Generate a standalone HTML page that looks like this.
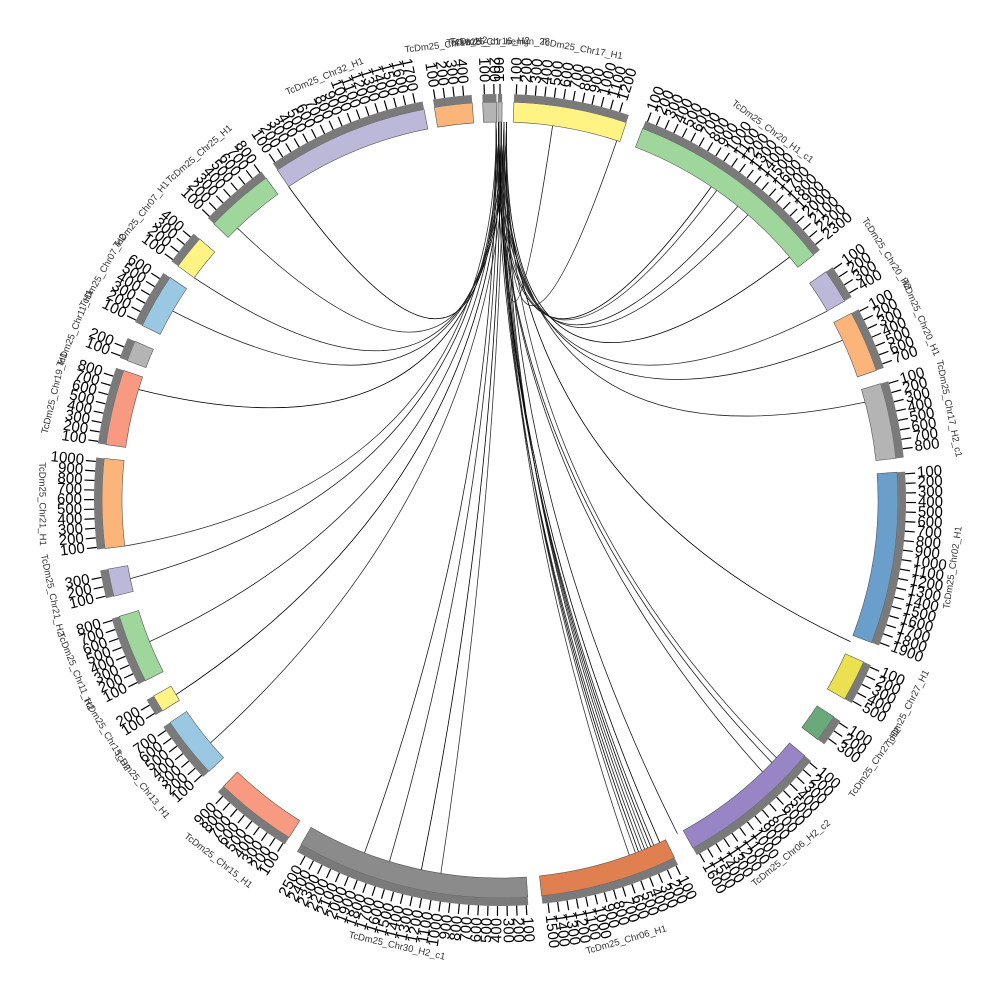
<!DOCTYPE html>
<html><head><meta charset="utf-8"><style>
html,body{margin:0;padding:0;background:#fff;}
svg{display:block;font-family:"Liberation Sans",sans-serif;}
</style></head><body>
<svg id="s" width="1000" height="1000" viewBox="0 0 1000 1000" xmlns="http://www.w3.org/2000/svg"></svg>
<script>
var S=document.getElementById('s'),NS='http://www.w3.org/2000/svg',cx=500,cy=500;
function el(t,a,txt){var e=document.createElementNS(NS,t);for(var k in a)e.setAttribute(k,a[k]);if(txt!=null)e.textContent=txt;S.appendChild(e);return e;}
function pt(a,r){var t=a*Math.PI/180;return [cx+r*Math.sin(t),cy-r*Math.cos(t)];}
function arc(a0,a1,r0,r1,fill,stroke){var p0=pt(a0,r1),p1=pt(a1,r1),p2=pt(a1,r0),p3=pt(a0,r0),l=(a1-a0)>180?1:0;
el('path',{d:'M'+p0+' A'+r1+','+r1+' 0 '+l+' 1 '+p1+' L'+p2+' A'+r0+','+r0+' 0 '+l+' 0 '+p3+'Z',fill:fill,stroke:stroke||'none','stroke-width':0.6});}
var segs=[
[-0.3,0.3,'#bbb','TcDm25_c1_benign_28'],
[2,18.5,'#fff384','TcDm25_Chr17_H1'],
[21,52,'#9fd69c','TcDm25_Chr20_H1_c1'],
[55,60,'#bcb8da','TcDm25_Chr20_H2'],
[62,71,'#fbb479','TcDm25_Chr20_H1'],
[73,84,'#b4b4b4','TcDm25_Chr17_H2_c1'],
[86,111,'#6a9ecb','TcDm25_Chr02_H1'],
[114,120,'#ebe050','TcDm25_Chr27_H1'],
[123,127,'#6aaa7a','TcDm25_Chr27_H2'],
[130,151,'#9785c5','TcDm25_Chr06_H2_c2'],
[154,174,'#e07f50','TcDm25_Chr06_H1'],
[176,210,'#8b8b8b','TcDm25_Chr30_H2_c1'],
[212,224,'#f79a81','TcDm25_Chr15_H1'],
[227,236,'#9ac8e2','TcDm25_Chr13_H1'],
[238,240.5,'#fff384','TcDm25_Chr15_H2'],
[243,253,'#9fd69c','TcDm25_Chr11_H2'],
[256,260,'#bcb8da','TcDm25_Chr21_H2'],
[263,276,'#fbb479','TcDm25_Chr21_H1'],
[278,289,'#f79a81','TcDm25_Chr19_H1'],
[290.5,293.5,'#b4b4b4','TcDm25_Chr11_H1'],
[296,304,'#9ac8e2','TcDm25_Chr07_H2'],
[306,311,'#fff384','TcDm25_Chr07_H1'],
[314,324,'#9fd69c','TcDm25_Chr25_H1'],
[326,349,'#bcb8da','TcDm25_Chr32_H1'],
[350.5,356,'#fbb479','TcDm25_Chr13_H2'],
[357.5,359.5,'#b4b4b4','TcDm25_Chr16_H2']];
var tg=[34,35,39,41,50,60,65,75,112,133,134,156,156.5,157,157.5,158,158.5,159,8,18,326,316,306,300,287,263,258,248,239,230,201,197,192,189,152,136,155,160];
var cols=['#000','#333','#1a1a1a','#222'];
tg.forEach(function(a,i){var s=pt((i%5)*0.4-0.6,378),e=pt(a,378);
el('path',{d:'M'+s+' Q'+cx+','+(cy-20)+' '+e,fill:'none',stroke:cols[i%4],'stroke-width':0.8});});
segs.forEach(function(s){
arc(s[0],s[1],378,398,s[2],'#555');
arc(s[0],s[1],398,406,'#7a7a7a');
var n=0;for(var a=s[0]+0.3;a<s[1];a+=1.35){n++;var p=pt(a,406),q=pt(a,416);
el('line',{x1:p[0],y1:p[1],x2:q[0],y2:q[1],stroke:'#000','stroke-width':1.2});
var r=pt(a,418),ang=a-90,anchor='start';if(a%360>180){ang=a+90;anchor='end';}
el('text',{x:r[0],y:r[1],'font-size':15,'text-anchor':anchor,'dominant-baseline':'middle',transform:'rotate('+ang+' '+r[0]+' '+r[1]+')'},(n*100)+'');}
var m=(s[0]+s[1])/2,q=pt(m,458),rot=m;if(m>90&&m<270)rot=m+180;
el('text',{x:q[0],y:q[1],'font-size':9.5,fill:'#333','text-anchor':'middle','dominant-baseline':'middle',transform:'rotate('+rot+' '+q[0]+' '+q[1]+')'},s[3]);
});
</script>
</body></html>
